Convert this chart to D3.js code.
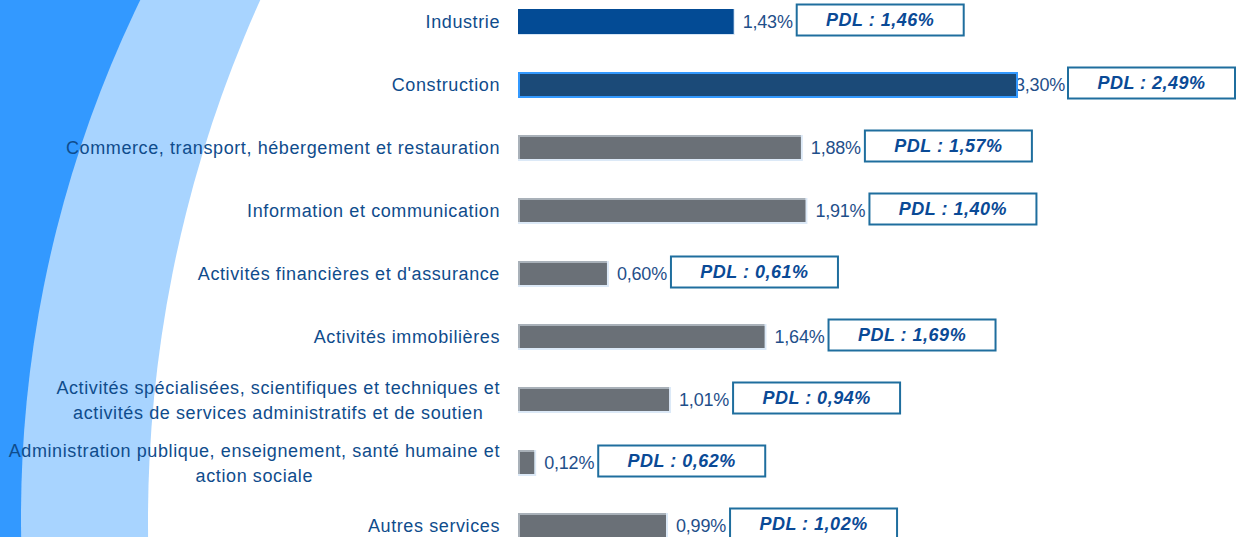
<!DOCTYPE html>
<html>
<head>
<meta charset="utf-8">
<script src="https://cdn.jsdelivr.net/npm/d3@7"></script>
<style>
  html, body { margin: 0; padding: 0; background: #fff; overflow: hidden; }
  svg { display: block; font-family: Arial, "Liberation Sans", sans-serif; }
</style>
</head>
<body>
<div id="chart"></div>
<script>
// data
const categories = [
  "Industrie",
  "Construction",
  "Commerce, transport, hébergement et restauration",
  "Information et communication",
  "Activités financières et d'assurance",
  "Activités immobilières",
  "Activités spécialisées, scientifiques et techniques et\nactivités de services administratifs et de soutien",
  "Administration publique, enseignement, santé humaine et\naction sociale",
  "Autres services"
];
const values = [1.43, 3.30, 1.88, 1.91, 0.60, 1.64, 1.01, 0.12, 0.99];
const pdlValues = [1.46, 2.49, 1.57, 1.40, 0.61, 1.69, 0.94, 0.62, 1.02];

const width = 1236, height = 537;
const fmt = v => v.toFixed(2).replace(".", ",") + "%";

const svg = d3.select("#chart").append("svg")
  .attr("width", width)
  .attr("height", height);

// background swoosh
svg.append("rect").attr("width", width).attr("height", height).attr("fill", "#3399ff");
svg.append("circle").attr("cx", 1201).attr("cy", 517).attr("r", 1180).attr("fill", "#a8d4ff");
svg.append("circle").attr("cx", 1413).attr("cy", 521).attr("r", 1265).attr("fill", "#ffffff");

// scales
const x = d3.scaleLinear().domain([0, 3.30]).range([518, 1018]);
const y = d3.scalePoint().domain(d3.range(categories.length)).range([22, 526]);
const barH = 26, boxW = 167, boxH = 31;

// category labels (centered block, right edge at 500)
categories.forEach(function (c, i) {
  const lines = c.split("\n");
  const t = svg.append("text")
    .attr("fill", "#0f4c8c")
    .attr("font-size", 18)
    .attr("letter-spacing", 0.6)
    .attr("text-anchor", "middle");
  lines.forEach(function (l, j) {
    t.append("tspan")
      .attr("x", 0)
      .attr("y", y(i) + (j - (lines.length - 1) / 2) * 25)
      .attr("dy", "0.35em")
      .text(l);
  });
  const w = t.node().getBBox().width;
  t.attr("transform", "translate(" + (500 - w / 2) + ",0)");
});

// value labels + PDL boxes
const labelG = svg.append("g");
const boxG = svg.append("g");
values.forEach(function (v, i) {
  const lx = x(v) + 8;
  const lab = labelG.append("text")
    .attr("x", lx)
    .attr("y", y(i))
    .attr("dy", "0.35em")
    .attr("fill", "#1f4f8a")
    .attr("font-size", 18)
    .attr("letter-spacing", -0.2)
    .text(fmt(v));
  const lw = lab.node().getComputedTextLength();
  let bx = lx + lw + 4;
  if (bx + boxW > width) {
    bx = width - boxW - 1;
    lab.attr("x", bx - 3 - lw);
  }
  boxG.append("rect")
    .attr("x", bx).attr("y", y(i) - 2 - boxH / 2)
    .attr("width", boxW).attr("height", boxH)
    .attr("fill", "#fff")
    .attr("stroke", "#1f6e9e")
    .attr("stroke-width", 2);
  boxG.append("text")
    .attr("x", bx + boxW / 2)
    .attr("y", y(i) - 2)
    .attr("dy", "0.35em")
    .attr("text-anchor", "middle")
    .attr("font-size", 18)
    .attr("font-weight", "bold")
    .attr("font-style", "italic")
    .attr("letter-spacing", 0.5)
    .attr("fill", "#0a4a96")
    .text("PDL : " + fmt(pdlValues[i]));
});

// bars
const bars = svg.append("g");
values.forEach(function (v, i) {
  const x0 = x(0), w = x(v) - x(0), y0 = y(i) - barH / 2;
  if (i === 0) {
    bars.append("rect").attr("x", x0).attr("y", y0).attr("width", w).attr("height", barH)
      .attr("fill", "#d6e6f6");
    bars.append("rect").attr("x", x0).attr("y", y0).attr("width", w - 1).attr("height", barH - 1)
      .attr("fill", "#034b95");
  } else if (i === 1) {
    bars.append("rect").attr("x", x0 + 1).attr("y", y0 + 1).attr("width", w - 2).attr("height", barH - 2)
      .attr("fill", "#1b4a78")
      .attr("stroke", "#3399ff")
      .attr("stroke-width", 2);
  } else {
    bars.append("rect").attr("x", x0).attr("y", y0).attr("width", w).attr("height", barH)
      .attr("fill", "#dce9f7");
    bars.append("rect").attr("x", x0).attr("y", y0).attr("width", w - 2).attr("height", barH - 2)
      .attr("fill", "#a9b1b9");
    bars.append("rect").attr("x", x0 + 2).attr("y", y0 + 2).attr("width", w - 4).attr("height", barH - 4)
      .attr("fill", "#6a7077");
  }
});
</script>
</body>
</html>
